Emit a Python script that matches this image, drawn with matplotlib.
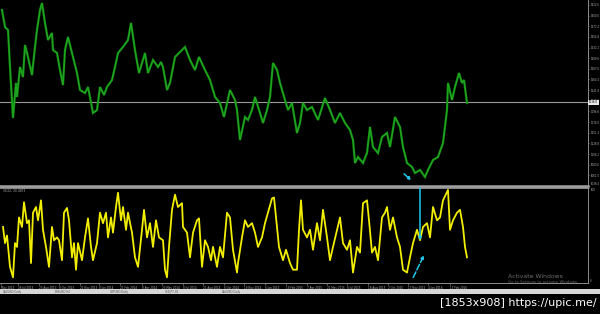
import matplotlib
matplotlib.use('Agg')
import matplotlib.pyplot as plt
from matplotlib.patches import Rectangle

W, H = 600, 314

# ---------------- data ----------------
price_bars = [2, 5, 8, 10, 13, 16, 17, 20, 23, 25, 28, 32, 35, 37, 40, 42, 45, 48, 52, 53,
              57, 60, 63, 65, 68, 72, 77, 80, 85, 88, 93, 97, 100, 104, 107, 112, 115, 118, 123, 128,
              131, 135, 139, 145, 148, 153, 158, 161, 163, 167, 170, 175, 182, 185, 190, 195, 199, 205, 210, 215,
              220, 224, 230, 235, 237, 240, 245, 248, 252, 255, 260, 263, 267, 270, 273, 277, 280, 285, 288, 292,
              297, 300, 303, 307, 312, 318, 325, 330, 335, 340, 345, 350, 353, 355, 358, 363, 367, 370, 373, 378,
              382, 387, 390, 395, 400, 403, 407, 412, 415, 420, 425, 428, 433, 438, 443, 447, 448, 452, 455, 459,
              462, 464, 467]
price_vals = [1411.9, 1375.8, 1369.4, 1290.9, 1182.7, 1257.0, 1227.3, 1290.9, 1269.7, 1337.6, 1312.1, 1273.9, 1333.4, 1369.4, 1411.9, 1426.7, 1384.3, 1348.2, 1363.1, 1327.0,
              1320.6, 1284.6, 1252.7, 1327.0, 1354.6, 1320.6, 1278.2, 1242.1, 1235.7, 1248.5, 1193.3, 1199.7, 1248.5, 1231.5, 1248.5, 1263.3, 1290.9, 1320.6, 1333.4, 1348.2,
              1384.3, 1327.0, 1278.2, 1320.6, 1278.2, 1305.8, 1290.9, 1301.5, 1290.9, 1242.1, 1257.0, 1312.1, 1327.0, 1333.4, 1305.8, 1284.6, 1312.1, 1284.6, 1263.3, 1227.3,
              1214.5, 1184.8, 1242.1, 1220.9, 1199.7, 1136.0, 1184.8, 1178.5, 1199.7, 1227.3, 1193.3, 1172.1, 1199.7, 1227.3, 1299.4, 1284.6, 1257.0, 1220.9, 1199.7, 1214.5,
              1150.9, 1172.1, 1214.5, 1199.7, 1206.0, 1178.5, 1225.1, 1199.7, 1172.1, 1193.3, 1172.1, 1157.2, 1136.0, 1087.2, 1099.9, 1087.2, 1108.4, 1163.6, 1121.2, 1108.4,
              1142.4, 1150.9, 1121.2, 1184.8, 1163.6, 1121.2, 1087.2, 1078.7, 1066.0, 1072.4, 1057.5, 1072.4, 1093.6, 1099.9, 1129.6, 1199.7, 1257.0, 1220.9, 1248.5, 1278.2,
              1257.0, 1263.3, 1214.5]

osc_bars = [3, 5, 7, 10, 13, 15, 17, 19, 22, 24, 27, 29, 31, 33, 36, 38, 41, 43, 46, 49,
            52, 54, 57, 59, 62, 64, 67, 69, 72, 74, 76, 78, 82, 85, 88, 91, 93, 97, 100, 103,
            106, 108, 111, 113, 116, 118, 121, 123, 126, 128, 132, 135, 138, 142, 144, 147, 150, 153, 156, 159,
            163, 165, 167, 169, 172, 175, 178, 182, 183, 187, 190, 193, 197, 199, 202, 205, 208, 211, 213, 217,
            220, 223, 227, 230, 233, 237, 238, 242, 245, 248, 252, 255, 258, 262, 265, 268, 272, 274, 277, 279,
            283, 286, 290, 293, 297, 299, 301, 303, 307, 310, 313, 317, 320, 323, 327, 330, 333, 337, 340, 343,
            347, 350, 353, 357, 360, 363, 367, 369, 372, 375, 378, 382, 385, 387, 390, 393, 397, 400, 403, 407,
            410, 413, 417, 420, 423, 427, 430, 433, 437, 440, 443, 448, 450, 453, 457, 460, 463, 465, 467]
osc_vals = [59, 42, 50, 17, 6, 42, 38, 69, 59, 85, 63, 66, 21, 74, 80, 66, 87, 56, 38, 17,
            59, 45, 48, 45, 24, 74, 79, 66, 27, 42, 14, 42, 24, 48, 68, 38, 24, 42, 74, 63,
            74, 48, 69, 53, 80, 95, 66, 80, 56, 74, 53, 27, 17, 56, 77, 48, 63, 38, 66, 48,
            45, 14, 6, 38, 77, 93, 80, 84, 59, 53, 27, 53, 66, 68, 17, 45, 38, 24, 38, 17,
            38, 27, 74, 69, 35, 11, 21, 48, 66, 59, 63, 53, 38, 48, 63, 74, 89, 90, 59, 38,
            24, 35, 21, 14, 14, 56, 87, 56, 48, 56, 35, 63, 45, 77, 48, 24, 38, 56, 69, 42,
            35, 45, 11, 38, 32, 84, 87, 66, 32, 38, 24, 69, 74, 80, 56, 69, 48, 38, 14, 11,
            27, 42, 56, 45, 59, 63, 48, 80, 66, 69, 87, 98, 56, 66, 74, 77, 59, 38, 27]

price_ticks = [1038.4, 1061.0, 1083.6, 1106.2, 1128.8, 1151.4, 1174.0, 1196.6, 1219.2, 1241.8,
               1264.4, 1287.0, 1309.6, 1332.2, 1354.8, 1377.4, 1400.0, 1422.6]
current_price = 1216.0

date_pos = [1, 18, 39, 59, 80, 99, 120, 142, 162, 183, 203, 224, 244, 265, 286,
            307, 327, 347, 368, 388, 408, 428, 450]
date_labels = ['May 2013', '26 Jul 2013', '23 Aug 2013', '8 Oct 2013', '21 Nov 2013', '8 Jan 2014',
               '21 Feb 2014', '8 Apr 2014', '23 May 2014', '8 Jul 2014', '21 Aug 2014', '6 Oct 2014',
               '19 Nov 2014', '6 Jan 2015', '19 Feb 2015', '7 Apr 2015', '21 May 2015', '6 Jul 2015',
               '18 Aug 2015', '2 Oct 2015', '17 Nov 2015', '4 Jan 2016', '17 Feb 2016']

# ---------------- figure ----------------
fig = plt.figure(figsize=(6, 3.14), dpi=100, facecolor='black')


def box(x0, y0, x1, y1):
    return [x0 / W, 1 - y1 / H, (x1 - x0) / W, (y1 - y0) / H]


GRAY = '#8c8c8c'
LBL = '#b0b0b0'

ax1 = fig.add_axes(box(0, 0, 588, 186))
ax2 = fig.add_axes(box(0, 188, 588, 283))
for ax in (ax1, ax2):
    ax.set_facecolor('black')
    ax.set_xlim(0, 588)
    for s in ax.spines.values():
        s.set_color(GRAY)
        s.set_linewidth(0.7)
    ax.spines['left'].set_visible(False)
    ax.yaxis.tick_right()
    ax.tick_params(axis='y', colors=GRAY, labelcolor=LBL, labelsize=1.9, length=1.0, width=0.5, pad=0.6)

# price panel
ax1.set_ylim(1038.4, 1433.1)
ax1.spines['top'].set_visible(False)
ax1.spines['bottom'].set_linewidth(1.8)
ax1.spines['bottom'].set_color('#a0a0a0')
ax1.set_xticks([])
ax1.set_yticks(price_ticks)
ax1.set_yticklabels([f'{v:.1f}' for v in price_ticks])
for lab in ax1.get_yticklabels()[:1]:
    lab.set_va('bottom')
ax1.axhline(current_price, color='#9a9a9a', lw=0.8)
ax1.plot(price_bars, price_vals, color='#128f12', lw=1.6, solid_joinstyle='miter')
ax1.plot(price_bars, price_vals, color='#26b026', lw=0.5)
ax1.text(1.002, current_price, f'{current_price:.1f}', transform=ax1.get_yaxis_transform(),
         ha='left', va='center', fontsize=1.9, color='black',
         bbox=dict(boxstyle='square,pad=0.3', fc='#e8e8e8', ec='none'), clip_on=False, zorder=6)
ax1.annotate('', xy=(413, 1046.9), xytext=(402, 1068.1),
             arrowprops=dict(arrowstyle='-|>', color='#22c8ee', lw=1.1, ls=(0, (3, 1)),
                             mutation_scale=4))

# oscillator panel
ax2.set_ylim(0, 100)
ax2.spines['top'].set_linewidth(1.2)
ax2.spines['top'].set_color('#a0a0a0')
ax2.set_yticks([0, 100])
ax2.set_yticklabels(['0', '100'])
labs = ax2.get_yticklabels()
labs[0].set_va('bottom')
labs[1].set_va('top')
ax2.plot(osc_bars, osc_vals, color='#f2ee00', lw=1.3)
ax2.set_xticks(date_pos)
ax2.set_xticklabels(date_labels, ha='left')
ax2.tick_params(axis='x', colors=GRAY, labelcolor=LBL, labelsize=2.0, length=1.2, width=0.5, pad=0.8)
ax2.text(0.005, 0.985, '(0)22, 30.4873', transform=ax2.transAxes, ha='left', va='top',
         fontsize=2.2, color=LBL)
ax2.annotate('', xy=(420, 42), xytext=(420, 103),
             arrowprops=dict(arrowstyle='-|>', color='#22c8ee', lw=1.1, mutation_scale=4),
             annotation_clip=False)
ax2.annotate('', xy=(425, 31.6), xytext=(412, 3.2),
             arrowprops=dict(arrowstyle='-|>', color='#22c8ee', lw=1.1, ls=(0, (4, 1.5)),
                             mutation_scale=4))

# windows activation notice
fig.text(508 / W, 1 - 276 / H, 'Activate Windows', color='#6e6e6e', fontsize=4.4,
         ha='left', va='center')
fig.text(508 / W, 1 - 282.5 / H, 'Go to Settings to activate Windows.', color='#5e5e5e',
         fontsize=2.8, ha='left', va='center')

# tab bar
fig.patches.append(Rectangle((0, 1 - 294 / H), 1, 5 / H, transform=fig.transFigure,
                             facecolor='#d6d6d6', edgecolor='none'))
for x, t in [(3, 'XAUUSD,Daily'), (55, 'EURUSD,H4'), (110, 'GBPUSD,Daily'),
             (165, 'USDJPY,H1'), (222, 'XAUUSD,Daily')]:
    fig.text(x / W, 1 - 291.6 / H, t, fontsize=2.0, color='#555555', ha='left', va='center')

# watermark
fig.text(597 / W, 1 - 303 / H, '[1853x908] https://upic.me/', color='white', fontsize=8.0,
         ha='right', va='center', family=['Liberation Sans Narrow', 'DejaVu Sans'])

fig.savefig('out.png', dpi=100, facecolor='black')
